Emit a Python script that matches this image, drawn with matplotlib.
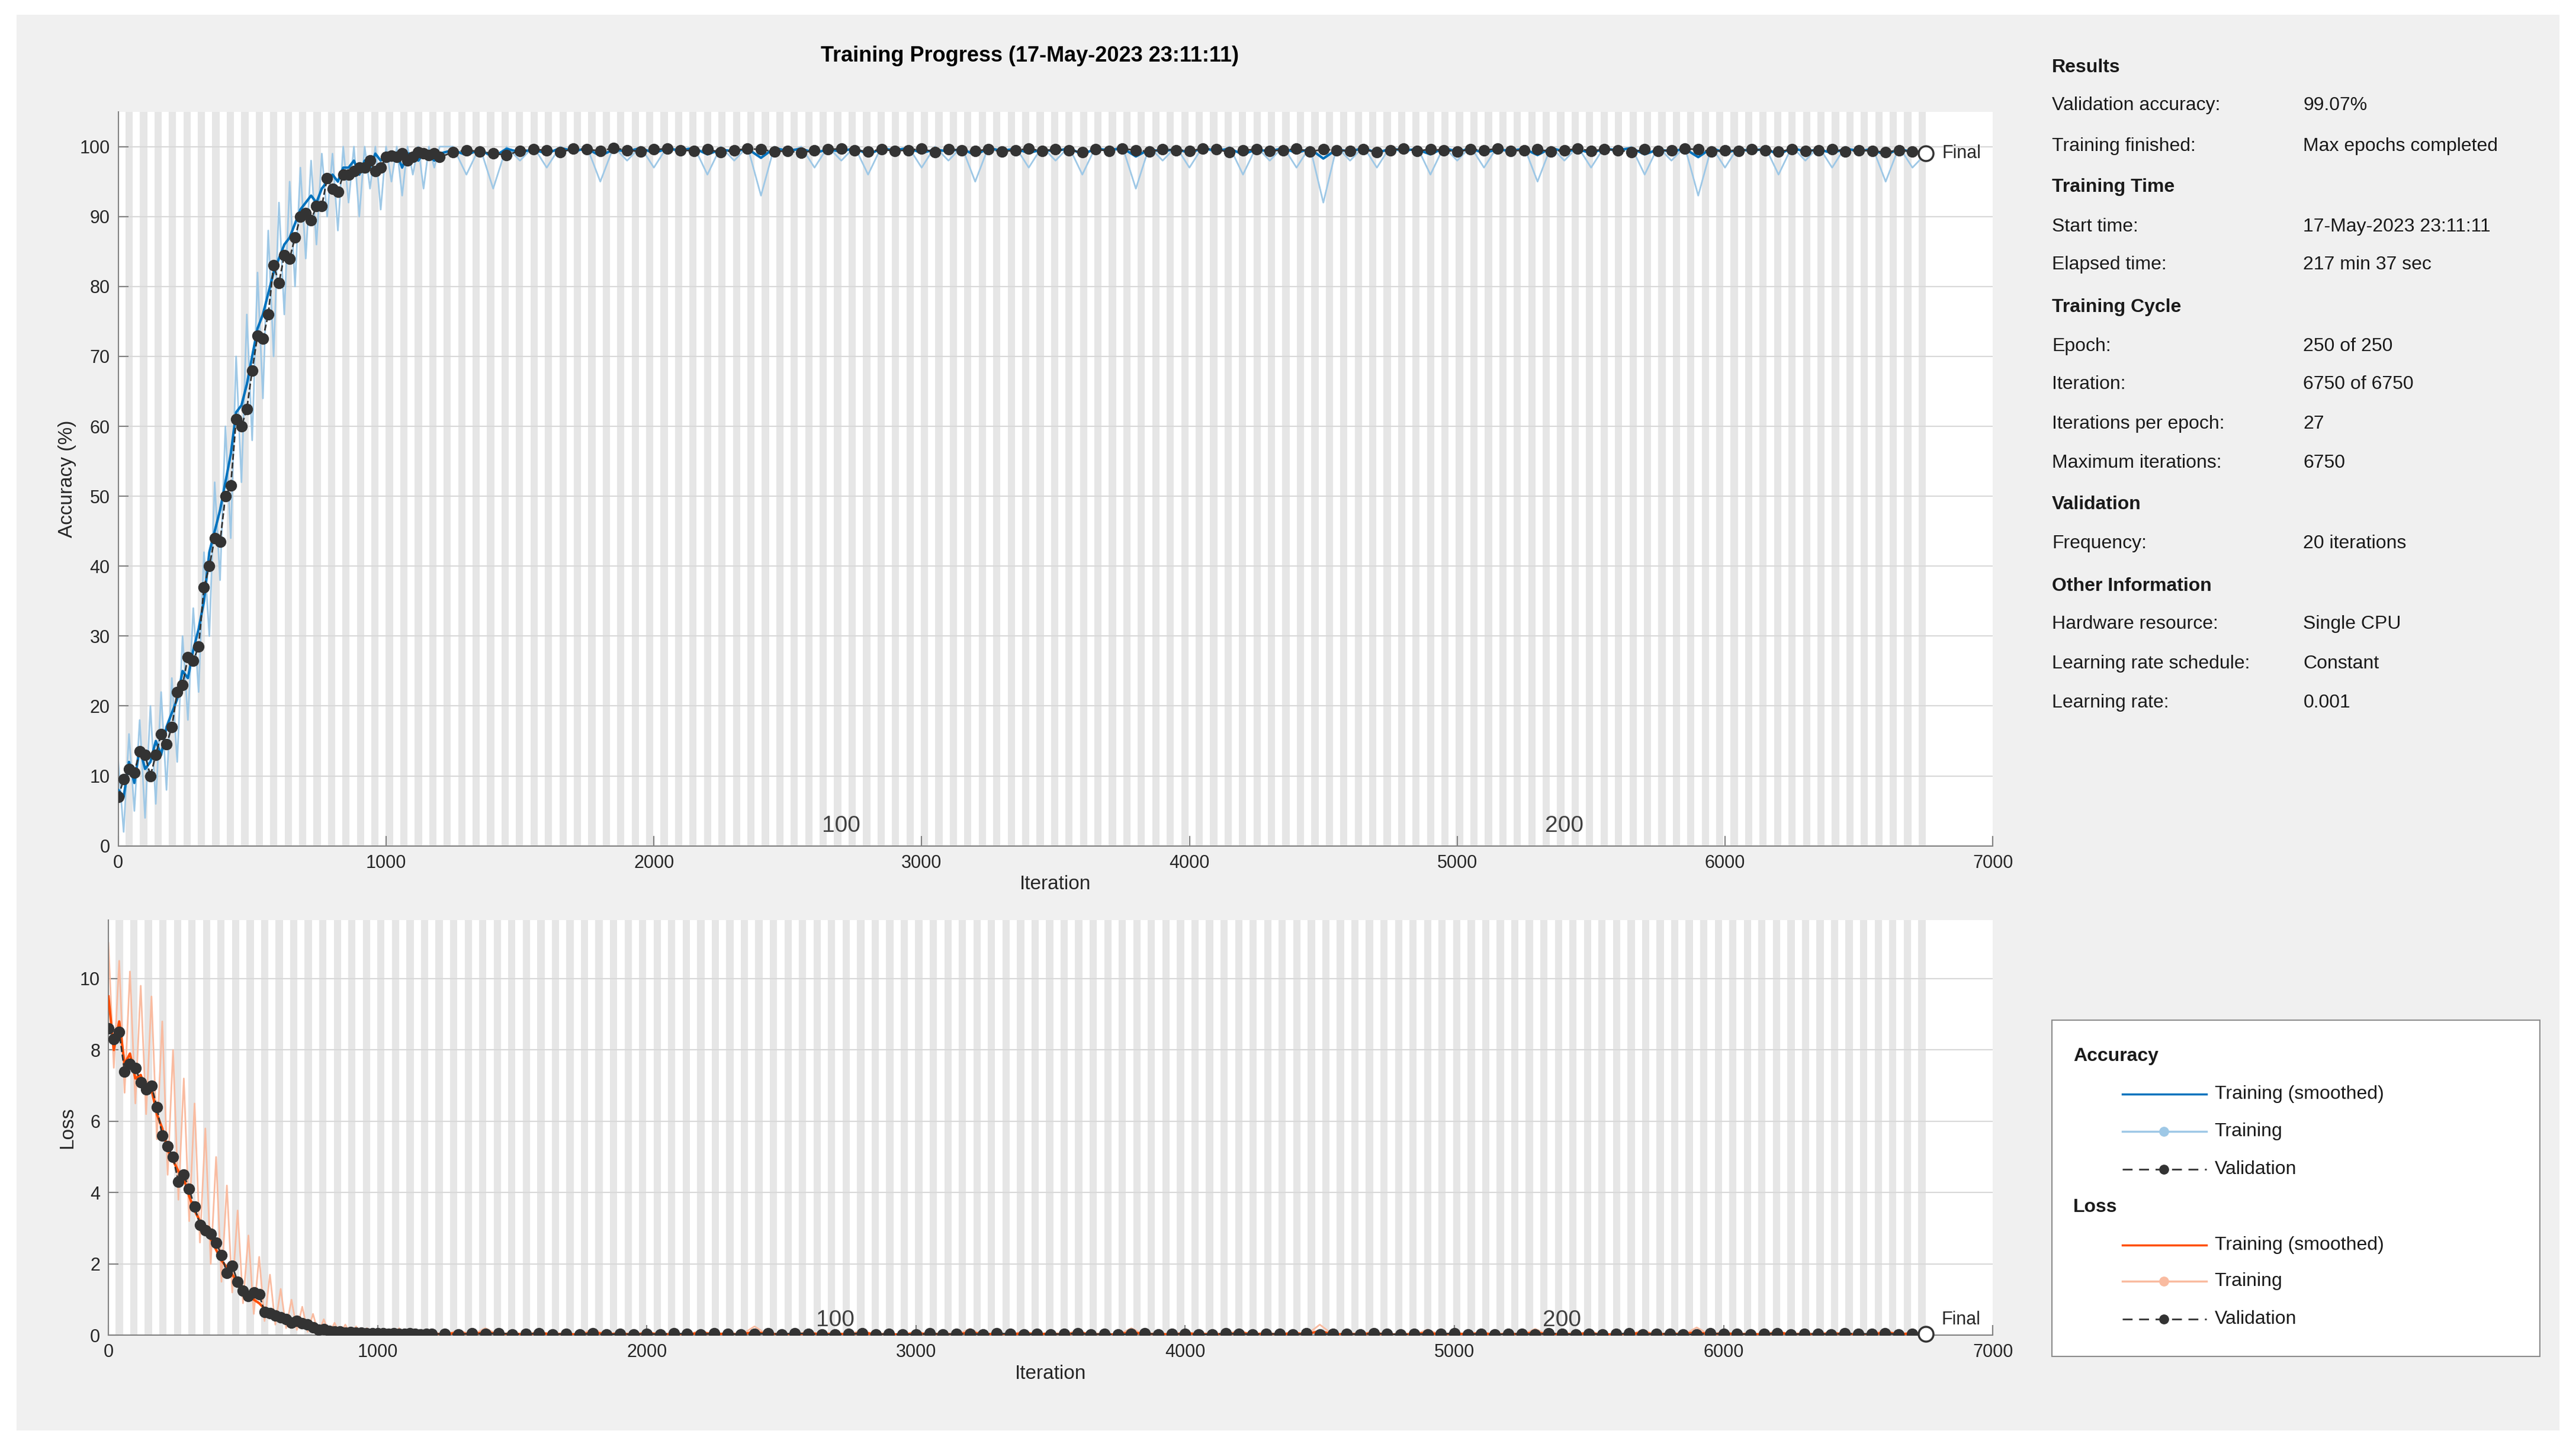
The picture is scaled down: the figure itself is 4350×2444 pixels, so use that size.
import numpy as np
import matplotlib.pyplot as plt
from matplotlib.patches import Rectangle
from matplotlib.lines import Line2D

# ---- data ----
n_epochs = 250
iters_per_epoch = 27
max_iter = 6750

# early phase sampled every 20 iterations (0..1200), plateau every 50 (1250..6750)
early_it = list(range(0, 1201, 20))
late_it = list(range(1250, 6751, 50))

acc_val_early = [7, 9.5, 11, 10.5, 13.5, 13, 10, 13, 16, 14.5, 17, 22, 23, 27, 26.5, 28.5, 37, 40, 44, 43.5,
                 50, 51.5, 61, 60, 62.5, 68, 73, 72.5, 76, 83, 80.5, 84.5, 84, 87, 90, 90.5, 89.5, 91.5, 91.5, 95.5,
                 94, 93.5, 96, 96, 96.5, 97, 97, 98, 96.5, 97, 98.5, 98.7, 98.5, 99, 98, 98.5, 99.2, 99, 98.8, 99, 98.5]
acc_smooth_early = [8, 7, 12, 9, 14, 11, 12, 15, 13, 17, 19, 21, 25, 24, 28, 31, 35, 42, 45, 48,
                    52, 56, 62, 63, 66, 70, 74, 76, 79, 82, 84, 86, 87, 89, 91, 92, 93, 92, 94, 95,
                    96, 95, 97, 97, 98, 96, 98, 97, 99, 98, 99, 98, 99, 97, 99, 99, 98, 99, 99, 98, 99]
acc_raw_early = [12, 2, 16, 5, 18, 4, 20, 6, 22, 8, 24, 12, 30, 18, 34, 22, 42, 30, 52, 38,
                 60, 44, 70, 52, 76, 58, 82, 64, 88, 70, 92, 76, 95, 80, 97, 84, 98, 86, 99, 90,
                 99, 88, 100, 92, 100, 90, 100, 94, 100, 91, 100, 95, 100, 93, 100, 96, 100, 94, 100, 97, 100]

acc_val_late = [99.2, 99.5, 99.3, 99.0, 98.8, 99.4, 99.6, 99.5, 99.2, 99.7, 99.6, 99.4, 99.8, 99.5, 99.3, 99.6, 99.7, 99.5, 99.4, 99.6,
                99.2, 99.5, 99.7, 99.6, 99.3, 99.4, 99.1, 99.5, 99.6, 99.7, 99.5, 99.3, 99.6, 99.4, 99.5, 99.7, 99.2, 99.6, 99.5, 99.4,
                99.6, 99.3, 99.5, 99.7, 99.4, 99.6, 99.5, 99.2, 99.6, 99.4, 99.7, 99.5, 99.3, 99.6, 99.5, 99.4, 99.7, 99.6, 99.2, 99.5,
                99.6, 99.4, 99.5, 99.7, 99.3, 99.6, 99.5, 99.4, 99.6, 99.2, 99.5, 99.7, 99.4, 99.6, 99.5, 99.3, 99.6, 99.5, 99.7, 99.4,
                99.5, 99.6, 99.3, 99.5, 99.7, 99.4, 99.6, 99.5, 99.2, 99.6, 99.4, 99.5, 99.7, 99.6, 99.3, 99.5, 99.4, 99.6, 99.5, 99.3,
                99.6, 99.4, 99.5, 99.6, 99.3, 99.5, 99.4, 99.2, 99.5, 99.3, 99.07]
acc_raw_late = [100, 96, 100, 94, 100, 98, 100, 97, 100, 99, 100, 95, 100, 98, 100, 97, 100, 99, 100, 96,
                100, 98, 100, 93, 100, 99, 100, 97, 100, 98, 100, 96, 100, 99, 100, 97, 100, 98, 100, 95,
                100, 99, 100, 97, 100, 98, 100, 96, 100, 99, 100, 94, 100, 98, 100, 97, 100, 99, 100, 96,
                100, 98, 100, 97, 100, 92, 100, 98, 100, 97, 100, 99, 100, 96, 100, 98, 100, 97, 100, 99,
                100, 95, 100, 98, 100, 97, 100, 99, 100, 96, 100, 98, 100, 93, 100, 97, 100, 99, 100, 96,
                100, 98, 100, 97, 100, 99, 100, 95, 100, 97, 99]
acc_smooth_late = [99.5, 98.8, 99.6, 98.5, 99.7, 99.2, 99.6, 99.0, 99.8, 99.4, 99.7, 98.7, 99.6, 99.3, 99.8, 99.1, 99.7, 99.5, 99.8, 98.9,
                   99.6, 99.3, 99.7, 98.4, 99.8, 99.4, 99.7, 99.1, 99.6, 99.3, 99.8, 98.9, 99.7, 99.5, 99.8, 99.1, 99.6, 99.3, 99.7, 98.8,
                   99.8, 99.4, 99.7, 99.1, 99.6, 99.3, 99.8, 98.9, 99.7, 99.5, 99.8, 98.6, 99.6, 99.3, 99.7, 99.1, 99.8, 99.4, 99.7, 98.9,
                   99.6, 99.3, 99.8, 99.1, 99.7, 98.3, 99.6, 99.3, 99.8, 99.1, 99.7, 99.5, 99.6, 98.9, 99.8, 99.3, 99.7, 99.1, 99.6, 99.4,
                   99.7, 98.8, 99.8, 99.3, 99.6, 99.1, 99.7, 99.5, 99.8, 98.9, 99.6, 99.3, 99.7, 98.5, 99.8, 99.1, 99.6, 99.4, 99.7, 98.9,
                   99.8, 99.3, 99.6, 99.1, 99.7, 99.4, 99.6, 98.8, 99.7, 99.2, 99.4]

loss_val_early = [8.6, 8.3, 8.5, 7.4, 7.6, 7.5, 7.1, 6.9, 7.0, 6.4, 5.6, 5.3, 5.0, 4.3, 4.5, 4.1, 3.6, 3.1, 2.95, 2.85,
                  2.6, 2.25, 1.75, 1.95, 1.5, 1.25, 1.1, 1.2, 1.15, 0.65, 0.62, 0.55, 0.5, 0.45, 0.35, 0.4, 0.33, 0.3, 0.22, 0.15,
                  0.17, 0.12, 0.1, 0.1, 0.08, 0.09, 0.07, 0.08, 0.06, 0.06, 0.05, 0.05, 0.04, 0.05, 0.04, 0.04, 0.05, 0.04, 0.03, 0.04, 0.04]
loss_smooth_early = [9.5, 8.0, 8.8, 7.6, 7.9, 7.2, 7.3, 6.8, 6.9, 6.2, 5.8, 5.2, 4.9, 4.6, 4.4, 3.9, 3.5, 3.2, 2.9, 2.7,
                     2.4, 2.1, 1.9, 1.7, 1.5, 1.3, 1.2, 1.0, 0.9, 0.75, 0.65, 0.55, 0.5, 0.42, 0.38, 0.33, 0.3, 0.25, 0.2, 0.18,
                     0.15, 0.13, 0.12, 0.1, 0.09, 0.08, 0.08, 0.07, 0.06, 0.06, 0.05, 0.05, 0.05, 0.04, 0.05, 0.04, 0.04, 0.05, 0.04, 0.04, 0.04]
loss_raw_early = [11, 7.5, 10.5, 6.8, 10.2, 6.5, 9.8, 6.2, 9.5, 5.5, 8.8, 4.5, 8.0, 3.8, 7.2, 3.2, 6.5, 2.6, 5.8, 2.0,
                  5.0, 1.5, 4.2, 1.2, 3.5, 0.9, 2.8, 0.6, 2.2, 0.4, 1.7, 0.3, 1.3, 0.2, 1.0, 0.15, 0.8, 0.1, 0.6, 0.05,
                  0.45, 0.03, 0.35, 0.02, 0.3, 0.02, 0.25, 0.01, 0.2, 0.01, 0.18, 0.01, 0.15, 0.01, 0.2, 0.01, 0.12, 0.01, 0.15, 0.01, 0.1]

loss_val_late = [0.04, 0.03, 0.05, 0.04, 0.06, 0.03, 0.04, 0.05, 0.03, 0.04, 0.03, 0.05, 0.02, 0.04, 0.03, 0.04, 0.03, 0.05, 0.04, 0.03,
                 0.05, 0.04, 0.03, 0.04, 0.05, 0.03, 0.06, 0.04, 0.03, 0.02, 0.04, 0.05, 0.03, 0.04, 0.03, 0.02, 0.05, 0.03, 0.04, 0.04,
                 0.03, 0.05, 0.04, 0.02, 0.04, 0.03, 0.04, 0.05, 0.03, 0.04, 0.02, 0.04, 0.05, 0.03, 0.04, 0.04, 0.02, 0.03, 0.05, 0.04,
                 0.03, 0.04, 0.04, 0.02, 0.05, 0.03, 0.04, 0.04, 0.03, 0.05, 0.04, 0.02, 0.04, 0.03, 0.04, 0.05, 0.03, 0.04, 0.02, 0.04,
                 0.04, 0.03, 0.05, 0.04, 0.02, 0.04, 0.03, 0.04, 0.05, 0.03, 0.04, 0.04, 0.02, 0.03, 0.05, 0.04, 0.04, 0.03, 0.04, 0.05,
                 0.03, 0.04, 0.04, 0.03, 0.05, 0.04, 0.04, 0.05, 0.03, 0.04, 0.04]
loss_raw_late = [0.01, 0.15, 0.01, 0.2, 0.01, 0.08, 0.01, 0.12, 0.01, 0.05, 0.01, 0.18, 0.01, 0.07, 0.01, 0.1, 0.01, 0.04, 0.01, 0.14,
                 0.01, 0.06, 0.01, 0.25, 0.01, 0.05, 0.01, 0.11, 0.01, 0.07, 0.01, 0.15, 0.01, 0.04, 0.01, 0.1, 0.01, 0.06, 0.01, 0.18,
                 0.01, 0.05, 0.01, 0.12, 0.01, 0.07, 0.01, 0.14, 0.01, 0.04, 0.01, 0.2, 0.01, 0.06, 0.01, 0.1, 0.01, 0.05, 0.01, 0.15,
                 0.01, 0.07, 0.01, 0.11, 0.01, 0.3, 0.01, 0.06, 0.01, 0.12, 0.01, 0.04, 0.01, 0.16, 0.01, 0.07, 0.01, 0.1, 0.01, 0.05,
                 0.01, 0.18, 0.01, 0.06, 0.01, 0.12, 0.01, 0.04, 0.01, 0.15, 0.01, 0.07, 0.01, 0.22, 0.01, 0.1, 0.01, 0.05, 0.01, 0.14,
                 0.01, 0.06, 0.01, 0.11, 0.01, 0.04, 0.01, 0.17, 0.01, 0.1, 0.03]
loss_smooth_late = [0.03, 0.07, 0.02, 0.09, 0.03, 0.05, 0.02, 0.06, 0.03, 0.04, 0.02, 0.08, 0.03, 0.05, 0.02, 0.06, 0.03, 0.03, 0.02, 0.07,
                    0.03, 0.05, 0.02, 0.1, 0.03, 0.04, 0.02, 0.06, 0.03, 0.05, 0.02, 0.07, 0.03, 0.03, 0.02, 0.06, 0.03, 0.04, 0.02, 0.08,
                    0.03, 0.04, 0.02, 0.06, 0.03, 0.05, 0.02, 0.07, 0.03, 0.03, 0.02, 0.09, 0.03, 0.04, 0.02, 0.06, 0.03, 0.04, 0.02, 0.07,
                    0.03, 0.05, 0.02, 0.06, 0.03, 0.12, 0.02, 0.04, 0.03, 0.06, 0.02, 0.03, 0.03, 0.07, 0.02, 0.05, 0.03, 0.06, 0.02, 0.04,
                    0.03, 0.08, 0.02, 0.04, 0.03, 0.06, 0.02, 0.03, 0.03, 0.07, 0.02, 0.05, 0.03, 0.09, 0.02, 0.06, 0.03, 0.04, 0.02, 0.07,
                    0.03, 0.04, 0.02, 0.06, 0.03, 0.03, 0.02, 0.08, 0.03, 0.05, 0.04]

info_rows = [
    ("Results", None),
    ("Validation accuracy:", "99.07%"),
    ("Training finished:", "Max epochs completed"),
    ("Training Time", None),
    ("Start time:", "17-May-2023 23:11:11"),
    ("Elapsed time:", "217 min 37 sec"),
    ("Training Cycle", None),
    ("Epoch:", "250 of 250"),
    ("Iteration:", "6750 of 6750"),
    ("Iterations per epoch:", "27"),
    ("Maximum iterations:", "6750"),
    ("Validation", None),
    ("Frequency:", "20 iterations"),
    ("Other Information", None),
    ("Hardware resource:", "Single CPU"),
    ("Learning rate schedule:", "Constant"),
    ("Learning rate:", "0.001"),
]
info_y = [41, 64, 89, 114, 138, 161, 187, 211, 234, 258, 282, 307, 331, 357, 380, 404, 428]

BLUE = '#0072BD'
BLUE_L = '#9ec8e6'
ORANGE = '#FF4D00'
ORANGE_L = '#f9bba0'
DARK = '#333333'

plt.rcParams['font.family'] = ['Liberation Sans', 'DejaVu Sans']

W, H = 4350, 2444
fig = plt.figure(figsize=(W / 100, H / 100), dpi=100, facecolor='white')
fig.patches.append(Rectangle((10 / 1568, 10 / 881), 1548 / 1568, 862 / 881, transform=fig.transFigure,
                             facecolor='#f0f0f0', edgecolor='none', zorder=-10))


def fx(px):
    return px / 1568


def fy(py):
    return 1 - py / 881


it_all = early_it + late_it


def setup(ax, ymax, yticks, ylabel):
    ax.set_facecolor('white')
    for e in range(1, n_epochs, 2):
        ax.axvspan(e * iters_per_epoch, (e + 1) * iters_per_epoch, color='#e6e6e6', lw=0, zorder=0)
    ax.set_xlim(0, 7000)
    ax.set_ylim(0, ymax)
    ax.set_xticks(range(0, 7001, 1000))
    ax.set_yticks(yticks)
    ax.grid(axis='y', color='#d8d8d8', lw=1.5, zorder=1)
    for s in ['top', 'right']:
        ax.spines[s].set_visible(False)
    for s in ['left', 'bottom']:
        ax.spines[s].set_color('#808080')
        ax.spines[s].set_linewidth(1.5)
    ax.tick_params(direction='in', length=12, width=1.5, color='#808080', labelsize=22, labelcolor='#262626', pad=10)
    ax.set_xlabel('Iteration', fontsize=24, color='#262626')
    ax.set_ylabel(ylabel, fontsize=24, color='#262626')


# ---- accuracy ----
ax1 = fig.add_axes([fx(72), fy(515), fx(1213 - 72), (515 - 68) / 881])
setup(ax1, 105, range(0, 101, 10), 'Accuracy (%)')
ax1.plot(it_all, acc_raw_early + acc_raw_late, color=BLUE_L, lw=2, zorder=2)
ax1.plot(it_all, acc_smooth_early + acc_smooth_late, color=BLUE, lw=3, zorder=3)
ax1.plot(it_all, acc_val_early + acc_val_late, color=DARK, lw=2, ls='--', marker='o', ms=13, zorder=4)
ax1.plot([max_iter], [acc_val_late[-1]], 'o', ms=18, mfc='white', mec=DARK, mew=2.5, zorder=5)
ax1.text(max_iter + 60, acc_val_late[-1], 'Final', fontsize=22, va='center', color='#262626')
ax1.text(2700, 2, '100', fontsize=28, ha='center', color='#404040')
ax1.text(5400, 2, '200', fontsize=28, ha='center', color='#404040')
fig.text(fx(627), fy(34), 'Training Progress (17-May-2023 23:11:11)', fontsize=26, fontweight='bold',
         ha='center', va='center')

# ---- loss ----
ax2 = fig.add_axes([fx(66), fy(813), fx(1213 - 66), (813 - 560) / 881])
setup(ax2, 11.65, range(0, 11, 2), 'Loss')
ax2.plot(it_all, loss_raw_early + loss_raw_late, color=ORANGE_L, lw=2, zorder=2)
ax2.plot(it_all, loss_smooth_early + loss_smooth_late, color=ORANGE, lw=3, zorder=3)
ax2.plot(it_all, loss_val_early + loss_val_late, color=DARK, lw=2, ls='--', marker='o', ms=13, zorder=4)
ax2.plot([max_iter], [loss_val_late[-1]], 'o', ms=18, mfc='white', mec=DARK, mew=2.5, zorder=5, clip_on=False)
ax2.text(max_iter + 60, 0.3, 'Final', fontsize=22, color='#262626')
ax2.text(2700, 0.25, '100', fontsize=28, ha='center', color='#404040')
ax2.text(5400, 0.25, '200', fontsize=28, ha='center', color='#404040')

# ---- info panel ----
for (lab, val), py in zip(info_rows, info_y):
    if val is None:
        fig.text(fx(1249), fy(py), lab, fontsize=23, fontweight='bold', va='center', color='#1a1a1a')
    else:
        fig.text(fx(1249), fy(py), lab, fontsize=23, va='center', color='#1a1a1a')
        fig.text(fx(1402), fy(py), val, fontsize=23, va='center', color='#1a1a1a')

# ---- legend ----
fig.patches.append(Rectangle((fx(1249), fy(826)), fx(1546 - 1249), (826 - 621) / 881, transform=fig.transFigure,
                             facecolor='white', edgecolor='#8c8c8c', lw=1.5))
leg = [("Accuracy", None, None), ("Training (smoothed)", BLUE, 'smooth'), ("Training", BLUE_L, 'raw'),
       ("Validation", DARK, 'val'), ("Loss", None, None), ("Training (smoothed)", ORANGE, 'smooth'),
       ("Training", ORANGE_L, 'raw'), ("Validation", DARK, 'val')]
leg_y = [643, 666, 689, 712, 735, 758, 780, 803]
for (lab, col, kind), py in zip(leg, leg_y):
    if kind is None:
        fig.text(fx(1262), fy(py), lab, fontsize=23, fontweight='bold', va='center', color='#1a1a1a')
        continue
    y = fy(py)
    if kind == 'val':
        fig.add_artist(Line2D([fx(1292), fx(1343)], [y, y], color=col, lw=2, ls=(0, (6, 4)), transform=fig.transFigure))
        fig.add_artist(Line2D([fx(1317)], [y], color=col, marker='o', ms=11, transform=fig.transFigure))
    else:
        fig.add_artist(Line2D([fx(1292), fx(1343)], [y, y], color=col, lw=2.5, transform=fig.transFigure))
        if kind == 'raw':
            fig.add_artist(Line2D([fx(1317)], [y], color=col, marker='o', ms=11, transform=fig.transFigure))
    fig.text(fx(1348), y, lab, fontsize=23, va='center', color='#1a1a1a')

fig.savefig('out.png', dpi=100, facecolor='white')
